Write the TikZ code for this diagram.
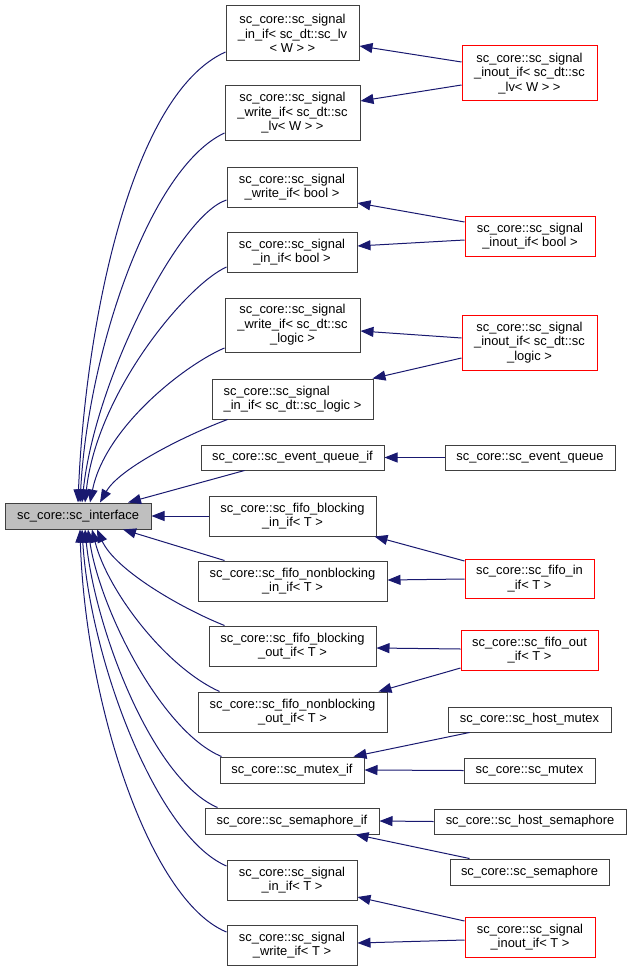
\documentclass[tikz,border=0pt]{standalone}
\usepackage{fontspec}
\setmainfont{Liberation Sans}
\usetikzlibrary{arrows.meta,calc}
\definecolor{edgeblue}{HTML}{191970}
\definecolor{boxgray}{HTML}{404040}
\definecolor{rootfill}{HTML}{BFBFBF}
\definecolor{boxred}{HTML}{FF0000}
\begin{document}
\begin{tikzpicture}[x=1pt,y=-1pt,
  cls/.style={draw=boxgray, line width=1pt, fill=white, inner sep=0pt, align=center,
              font=\fontsize{12.9pt}{14.5pt}\selectfont},
  redcls/.style={cls, draw=boxred},
  rootcls/.style={cls, fill=rootfill},
  edge/.style={draw=edgeblue, line width=1pt, -{Triangle[length=13pt,width=10pt]}}]
\useasboundingbox (0,0) rectangle (631,971);

% root
\node[rootcls, minimum width=146pt, minimum height=26pt] (root) at (78,516) {sc\_core::sc\_interface};

% middle column
\node[cls, minimum width=133pt, minimum height=55pt] (n1) at (292.5,33.5) {sc\_core::sc\_signal\\\_in\_if< sc\_dt::sc\_lv\\< W > >};
\node[cls, minimum width=135pt, minimum height=54pt] (n2) at (292.5,113) {sc\_core::sc\_signal\\\_write\_if< sc\_dt::sc\\\_lv< W > >};
\node[cls, minimum width=130pt, minimum height=40pt] (n3) at (292,187) {sc\_core::sc\_signal\\\_write\_if< bool >};
\node[cls, minimum width=130pt, minimum height=40pt] (n4) at (292,252) {sc\_core::sc\_signal\\\_in\_if< bool >};
\node[cls, minimum width=135pt, minimum height=54pt] (n5) at (292.5,325) {sc\_core::sc\_signal\\\_write\_if< sc\_dt::sc\\\_logic >};
\node[cls, align=left, minimum width=161pt, minimum height=40pt] (n6) at (292.5,399) {sc\_core::sc\_signal\\\_in\_if< sc\_dt::sc\_logic >};
\node[cls, minimum width=183pt, minimum height=25pt] (n7) at (292.5,457.5) {sc\_core::sc\_event\_queue\_if};
\node[cls, minimum width=167pt, minimum height=40pt] (n8) at (292.5,516) {sc\_core::sc\_fifo\_blocking\\\_in\_if< T >};
\node[cls, minimum width=189pt, minimum height=40pt] (n9) at (292.5,581) {sc\_core::sc\_fifo\_nonblocking\\\_in\_if< T >};
\node[cls, minimum width=167pt, minimum height=40pt] (n10) at (292.5,646) {sc\_core::sc\_fifo\_blocking\\\_out\_if< T >};
\node[cls, minimum width=189pt, minimum height=40pt] (n11) at (292.5,712) {sc\_core::sc\_fifo\_nonblocking\\\_out\_if< T >};
\node[cls, minimum width=144pt, minimum height=26pt] (n12) at (292,770) {sc\_core::sc\_mutex\_if};
\node[cls, minimum width=174pt, minimum height=26pt] (n13) at (292,821) {sc\_core::sc\_semaphore\_if};
\node[cls, minimum width=130pt, minimum height=40pt] (n14) at (292,880) {sc\_core::sc\_signal\\\_in\_if< T >};
\node[cls, minimum width=130pt, minimum height=40pt] (n15) at (292,945) {sc\_core::sc\_signal\\\_write\_if< T >};

% right column
\node[redcls, minimum width=135pt, minimum height=55pt] (A) at (529.5,73.5) {sc\_core::sc\_signal\\\_inout\_if< sc\_dt::sc\\\_lv< W > >};
\node[redcls, minimum width=130pt, minimum height=40pt] (B) at (530,236) {sc\_core::sc\_signal\\\_inout\_if< bool >};
\node[redcls, minimum width=135pt, minimum height=55pt] (C) at (529.5,342.5) {sc\_core::sc\_signal\\\_inout\_if< sc\_dt::sc\\\_logic >};
\node[cls, minimum width=170pt, minimum height=25pt] (D) at (530,457.5) {sc\_core::sc\_event\_queue};
\node[redcls, minimum width=129pt, minimum height=39pt] (E) at (529.5,578.5) {sc\_core::sc\_fifo\_in\\\_if< T >};
\node[redcls, minimum width=137pt, minimum height=40pt] (F) at (529.5,650) {sc\_core::sc\_fifo\_out\\\_if< T >};
\node[cls, minimum width=163pt, minimum height=25pt] (G) at (529.5,719.5) {sc\_core::sc\_host\_mutex};
\node[cls, minimum width=131pt, minimum height=25pt] (H) at (529.5,770.5) {sc\_core::sc\_mutex};
\node[cls, minimum width=192pt, minimum height=25pt] (I) at (530,821.5) {sc\_core::sc\_host\_semaphore};
\node[cls, minimum width=159pt, minimum height=26pt] (J) at (529.5,872) {sc\_core::sc\_semaphore};
\node[redcls, minimum width=130pt, minimum height=40pt] (K) at (530,937) {sc\_core::sc\_signal\\\_inout\_if< T >};

% right -> middle
\draw[edge] ($(A.west)+(0,-11.5)$) -- ($(n1.east)+(0,12.5)$);
\draw[edge] ($(A.west)+(0,11.5)$) -- ($(n2.east)+(0,-12)$);
\draw[edge] ($(B.west)+(0,-14)$) -- ($(n3.east)+(0,16)$);
\draw[edge] ($(B.west)+(0,4)$) -- ($(n4.east)+(0,-6)$);
\draw[edge] ($(C.west)+(0,-4.5)$) -- ($(n5.east)+(0,6)$);
\draw[edge] ($(C.west)+(0,15.5)$) -- ($(n6.north east)+(-1,0)$);
\draw[edge] (D.west) -- (n7.east);
\draw[edge] ($(E.west)+(0,-17.5)$) -- ($(n8.south east)+(-2,0)$);
\draw[edge] ($(E.west)+(0,0.5)$) -- ($(n9.east)+(0,-1)$);
\draw[edge] ($(F.west)+(0,-1)$) -- ($(n10.east)+(0,2)$);
\draw[edge] ($(F.west)+(0,18)$) -- ($(n11.north east)+(-9,0)$);
\draw[edge] ($(G.south west)+(22,0)$) -- ($(n12.north east)+(-11,0)$);
\draw[edge] (H.west) -- (n12.east);
\draw[edge] (I.west) -- (n13.east);
\draw[edge] ($(J.north west)+(20,0)$) -- ($(n13.south east)+(-24,0)$);
\draw[edge] ($(K.west)+(0,-16)$) -- ($(n14.east)+(0,17)$);
\draw[edge] ($(K.west)+(0,3)$) -- ($(n15.east)+(0,-2)$);

% middle -> root
\draw[edge] ($(n1.west)+(0,18.5)$) .. controls +(-96,43) and +(7,-173) .. (root.north);
\draw[edge] ($(n2.west)+(0,20)$) .. controls +(-75,35) and +(8,-150) .. ($(root.north)+(2,0)$);
\draw[edge] ($(n3.west)+(0,13)$) .. controls +(-47,15) and +(13,-123) .. ($(root.north)+(4,0)$);
\draw[edge] ($(n4.west)+(0,15)$) .. controls +(-40,18) and +(12,-110) .. ($(root.north)+(7,0)$);
\draw[edge] ($(n5.west)+(0,23)$) .. controls +(-40,17) and +(15,-75) .. ($(root.north)+(12,0)$);
\draw[edge] ($(n6.south west)+(16,0)$) .. controls +(-40,15) and +(20,-35) .. ($(root.north)+(22,0)$);
\draw[edge] ($(n7.south west)+(44,0)$) -- ($(root.north)+(50,0)$);
\draw[edge] (n8.west) -- (root.east);
\draw[edge] ($(n9.north west)+(27,0)$) -- ($(root.south)+(45,0)$);
\draw[edge] ($(n10.north west)+(16,0)$) .. controls +(-45,-18) and +(18,40) .. ($(root.south)+(19,0)$);
\draw[edge] ($(n11.north west)+(22,0)$) .. controls +(-55,-25) and +(15,60) .. ($(root.south)+(14,0)$);
\draw[edge] ($(n12.north west)+(2,0)$) .. controls +(-60,-25) and +(12,80) .. ($(root.south)+(10,0)$);
\draw[edge] ($(n13.north west)+(13,0)$) .. controls +(-65,-28) and +(10,100) .. ($(root.south)+(7,0)$);
\draw[edge] ($(n14.west)+(0,-14)$) .. controls +(-70,-30) and +(8,130) .. ($(root.south)+(4,0)$);
\draw[edge] ($(n15.west)+(0,-13)$) .. controls +(-78,-32) and +(5,170) .. ($(root.south)+(2,0)$);
\end{tikzpicture}
\end{document}
